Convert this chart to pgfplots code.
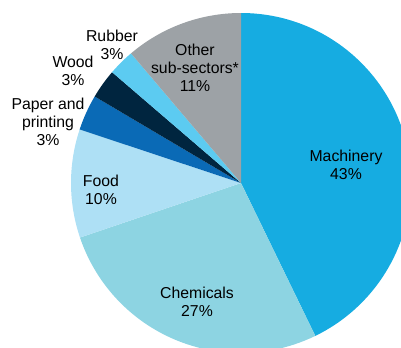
\documentclass[border=0pt]{standalone}
\usepackage{pgfplots}
\pgfplotsset{compat=1.18}
\usepackage{fontspec}
\setmainfont{Liberation Sans}
\definecolor{cMach}{RGB}{22,172,225}
\definecolor{cChem}{RGB}{141,212,226}
\definecolor{cFood}{RGB}{174,224,245}
\definecolor{cPaper}{RGB}{10,106,182}
\definecolor{cWood}{RGB}{0,37,63}
\definecolor{cRub}{RGB}{92,203,241}
\definecolor{cOther}{RGB}{157,162,166}
\begin{document}
\begin{tikzpicture}
\begin{axis}[x=1bp,y=1bp,xmin=0,xmax=401,ymin=0,ymax=348,hide axis,clip=true,
  scale only axis]
\gdef\cumangle{90}
\foreach \v/\c in {42.8/cMach,27.0/cChem,10.3/cFood,3.4/cPaper,2.8/cWood,2.5/cRub,11.2/cOther}{
  \pgfmathsetmacro\s{\cumangle}
  \pgfmathsetmacro\e{\s-3.6*\v}
  \edef\temp{\noexpand\fill[\c] (axis cs:241,165) -- ++(\s:170bp) arc[start angle=\s, end angle=\e, radius=170bp] -- cycle;}
  \temp
  \xdef\cumangle{\e}
}
\tikzset{lab/.style={align=center,text=black,font=\fontsize{15.8bp}{18bp}\selectfont,inner sep=0pt}}
\node[lab] at (axis cs:346,183) {Machinery\\43\%};
\node[lab] at (axis cs:197,46) {Chemicals\\27\%};
\node[lab] at (axis cs:101,158) {Food\\10\%};
\node[lab] at (axis cs:48,226) {Paper and\\printing\\3\%};
\node[lab] at (axis cs:73,277) {Wood\\3\%};
\node[lab] at (axis cs:112,303) {Rubber\\3\%};
\node[lab] at (axis cs:195,280) {Other\\sub-sectors*\\11\%};
\end{axis}
\pgfresetboundingbox
\useasboundingbox (0,0) rectangle (401bp,348bp);
\end{tikzpicture}
\end{document}
